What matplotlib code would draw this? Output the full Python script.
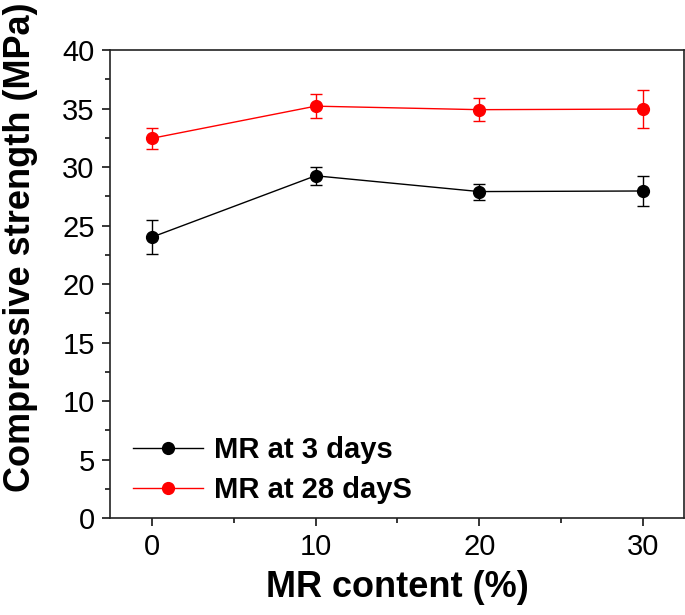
import matplotlib
matplotlib.use("Agg")
import matplotlib.pyplot as plt
from matplotlib.ticker import MultipleLocator

plt.rcParams['font.family'] = ['Liberation Sans', 'DejaVu Sans']

mr_content = [0, 10, 20, 30]
strength_3d = [24.0, 29.25, 27.9, 27.95]
err_3d = [1.45, 0.75, 0.68, 1.32]
strength_28d = [32.45, 35.2, 34.9, 34.95]
err_28d = [0.9, 1.0, 1.0, 1.65]
label_3d = "MR at 3 days"
label_28d = "MR at 28 dayS"

fig = plt.figure(figsize=(6.85, 6.15), dpi=100)
ax = fig.add_axes([0.1606, 0.1577, 0.8379, 0.761])

ax.errorbar(mr_content, strength_3d, yerr=err_3d, color='black', marker='o',
            markersize=8.5, linewidth=1.0, capsize=4.5, elinewidth=1.0,
            capthick=1.0, label=label_3d, zorder=3)
ax.errorbar(mr_content, strength_28d, yerr=err_28d, color='#ff0000', marker='o',
            markersize=8.5, linewidth=1.0, capsize=4.5, elinewidth=1.0,
            capthick=1.0, label=label_28d, zorder=3)

ax.set_xlim(-2.55, 32.5)
ax.set_ylim(0, 40)
ax.xaxis.set_major_locator(MultipleLocator(10))
ax.xaxis.set_minor_locator(MultipleLocator(5))
ax.yaxis.set_major_locator(MultipleLocator(5))
ax.yaxis.set_minor_locator(MultipleLocator(2.5))
ax.tick_params(which='major', direction='out', length=6, width=1.1, labelsize=21,
               top=False, right=False, pad=5)
ax.tick_params(which='minor', direction='out', length=3.5, width=1.1,
               top=False, right=False)
for s in ax.spines.values():
    s.set_linewidth(1.2)
    s.set_color('#222222')

ax.set_xlabel("MR content (%)", fontsize=26, fontweight='bold', labelpad=6)
ax.set_ylabel("Compressive strength (MPa)", fontsize=26, fontweight='bold')
ax.yaxis.set_label_coords(-0.125, 0.579)

handles, labels = ax.get_legend_handles_labels()
handles = [h[0] for h in handles]
leg = ax.legend(handles, labels, loc='lower left', frameon=False,
                prop={'weight': 'bold', 'size': 21}, handlelength=2.4,
                handletextpad=0.35, borderaxespad=0.4, labelspacing=0.4,
                bbox_to_anchor=(0.0, -0.02))

fig.savefig("out.png", dpi=100)
